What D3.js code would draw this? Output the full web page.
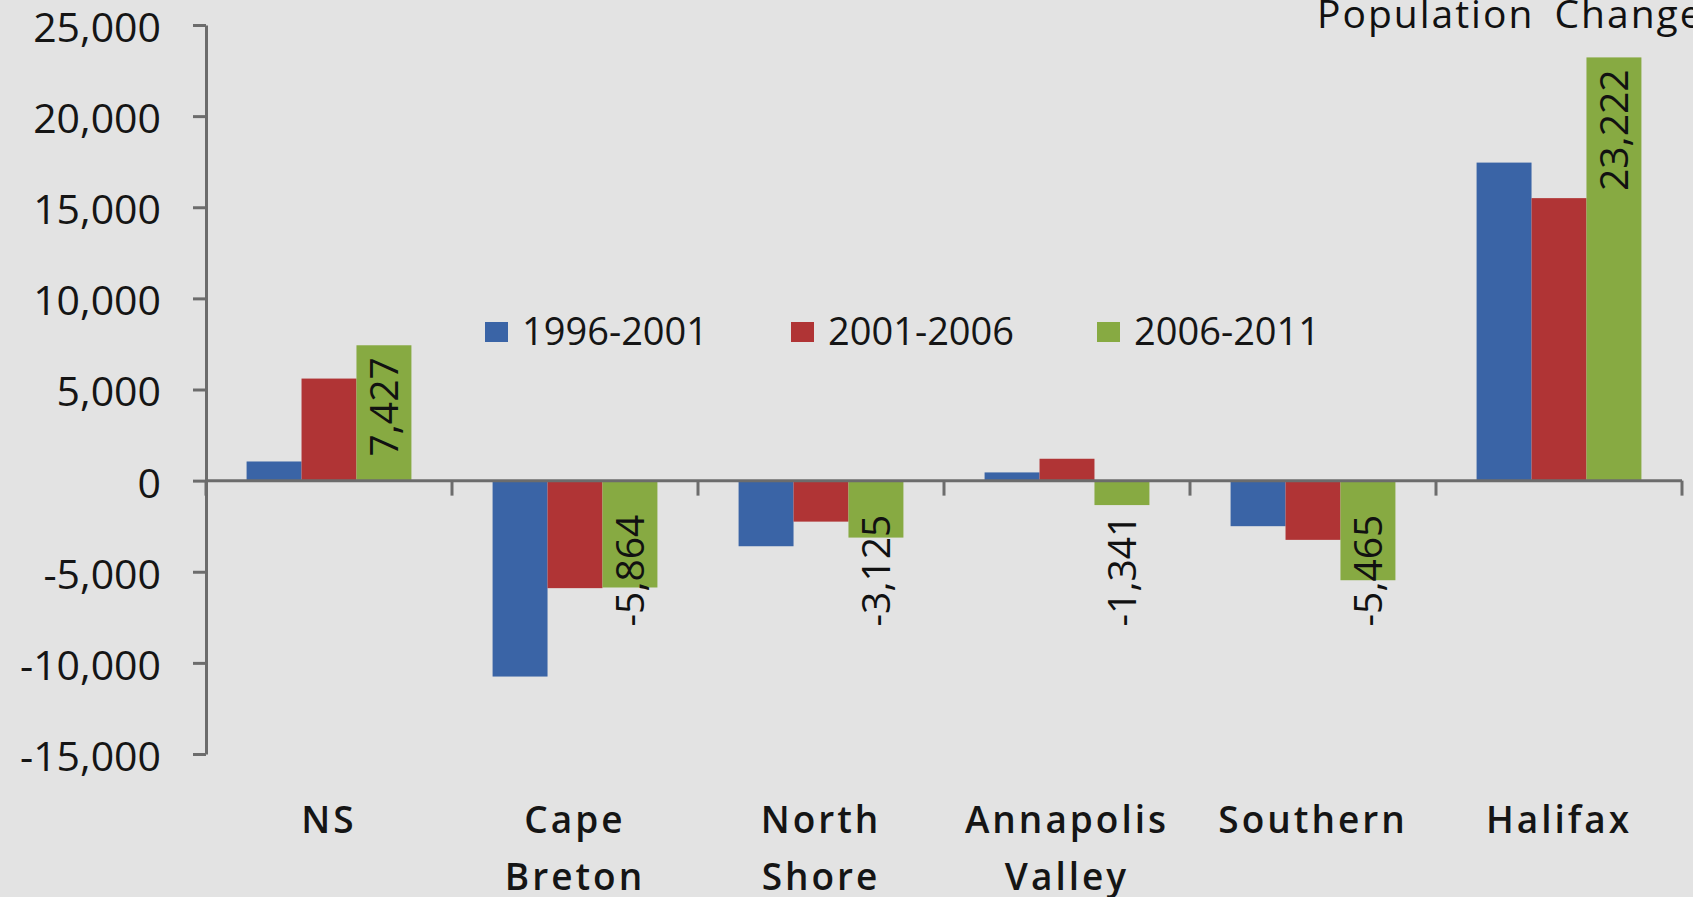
<!DOCTYPE html>
<html>
<head>
<meta charset="utf-8">
<script src="https://cdn.jsdelivr.net/npm/d3@7/dist/d3.min.js"></script>
<style>
    body { margin: 0; background: #e3e3e3; }
    svg { display: block; font-family: "Open Sans", sans-serif; }
    .axis path, .axis line { stroke: #6c6c6c; stroke-width: 3; }
    .axis text { font-family: "Open Sans", sans-serif; font-size: 41px; font-weight: 500; fill: #151515; }
    .cat { font-size: 37px; font-weight: 600; letter-spacing: 3px; fill: #151515; }
    .legend text { font-size: 38px; font-weight: 500; fill: #151515; }
    .label { font-size: 39px; fill: #111; }
</style>
</head>
<body>
<svg id="chart"></svg>
<script>
var w = 1693,
    h = 897;

var margin = {
    top: 25,
    right: 11,
    bottom: 143,
    left: 206
},
    width = w - margin.left - margin.right,
    height = h - margin.top - margin.bottom;

// data
var categories = ["NS", "Cape Breton", "North Shore", "Annapolis Valley", "Southern", "Halifax"];
var seriesNames = ["1996-2001", "2001-2006", "2006-2011"];
var colors = ["#3a64a6", "#b03435", "#87aa42"];
var change1996 = [1050, -10750, -3600, 450, -2500, 17450];
var change2001 = [5600, -5900, -2250, 1200, -3250, 15500];
var change2006 = [7427, -5864, -3125, -1341, -5465, 23222];
var yTicks = [25000, 20000, 15000, 10000, 5000, 0, -5000, -10000, -15000];

var series = [change1996, change2001, change2006];

var locale = d3.formatLocale({ decimal: ".", thousands: ",", grouping: [3], currency: ["", ""], minus: "-" });
var NUMFORMAT = locale.format(",");

var x0 = d3.scaleBand()
    .domain(categories)
    .range([0, width])
    .paddingInner(0.33)
    .paddingOuter(0.165);

var x1 = d3.scaleBand()
    .domain(d3.range(seriesNames.length))
    .range([0, x0.bandwidth()]);

var y = d3.scaleLinear()
    .domain([-15000, 25000])
    .range([height, 0]);

var svg = d3.select("#chart")
    .attr("width", w)
    .attr("height", h);

var g = svg.append("g")
    .attr("transform", "translate(" + margin.left + "," + margin.top + ")");

// bars
series.forEach(function(vals, s) {
    g.selectAll(".bar.s" + s)
        .data(vals)
        .enter()
        .append("rect")
        .attr("class", "bar s" + s)
        .attr("x", function(d, i) { return x0(categories[i]) + x1(s); })
        .attr("y", function(d) { return y(Math.max(0, d)); })
        .attr("width", x1.bandwidth())
        .attr("height", function(d) { return Math.abs(y(d) - y(0)); })
        .attr("fill", colors[s]);
});

// y axis
g.append("g")
    .attr("class", "axis y-axis")
    .call(d3.axisLeft(y).tickValues(yTicks).tickFormat(NUMFORMAT)
        .tickSize(13).tickSizeOuter(0).tickPadding(32))
    .selectAll("text")
    .attr("dy", "0.4em");

// x axis along zero, ticks between categories
var step = x0.step();
var xa = g.append("g")
    .attr("class", "axis x-axis")
    .attr("transform", "translate(0," + y(0) + ")");

xa.append("path")
    .attr("d", "M0,0H" + width);

xa.selectAll(".tick")
    .data(d3.range(categories.length + 1))
    .enter()
    .append("line")
    .attr("x1", function(i) { return i * step; })
    .attr("x2", function(i) { return i * step; })
    .attr("y1", 0)
    .attr("y2", 15);

// category labels, wrapped onto two lines
g.selectAll(".cat")
    .data(categories)
    .enter()
    .append("text")
    .attr("class", "cat")
    .attr("text-anchor", "middle")
    .attr("transform", function(d) { return "translate(" + (x0(d) + x0.bandwidth() / 2) + "," + (833 - margin.top) + ")"; })
    .selectAll("tspan")
    .data(function(d) { return d.split(" "); })
    .enter()
    .append("tspan")
    .attr("x", 0)
    .attr("y", function(d, i) { return i * 57; })
    .text(function(d) { return d; });

// data labels on the 2006-2011 bars
g.selectAll(".label")
    .data(change2006)
    .enter()
    .append("text")
    .attr("class", "label")
    .attr("text-anchor", "end")
    .attr("dy", "0.36em")
    .attr("transform", function(d, i) {
        var cx = x0(categories[i]) + x1(2) + x1.bandwidth() / 2;
        var ty = d > 0 ? y(d) + 12 : y(0) + 34;
        return "translate(" + cx + "," + ty + ") rotate(-90)";
    })
    .text(function(d) { return NUMFORMAT(d); });

// legend
var legend = svg.append("g")
    .attr("class", "legend")
    .attr("transform", "translate(485,322)");

var item = legend.selectAll(".item")
    .data(seriesNames)
    .enter()
    .append("g")
    .attr("transform", function(d, i) { return "translate(" + (i * 306) + ",0)"; });

item.append("rect")
    .attr("width", 23)
    .attr("height", 20)
    .attr("fill", function(d, i) { return colors[i]; });

item.append("text")
    .attr("x", 37)
    .attr("y", 23)
    .text(function(d) { return d; });

// title, partly off the top of the picture as in the source
svg.append("text")
    .attr("x", 1317)
    .attr("y", 28)
    .attr("font-size", 39)
    .attr("font-weight", 500)
    .attr("letter-spacing", 2)
    .attr("word-spacing", 8)
    .attr("fill", "#111")
    .text("Population Change");
</script>
</body>
</html>
